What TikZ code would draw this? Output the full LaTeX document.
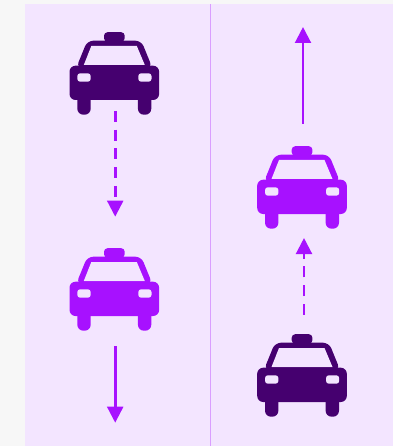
\documentclass[tikz,border=0pt]{standalone}
\usetikzlibrary{arrows.meta}
\definecolor{pagebg}{HTML}{F7F7F7}
\definecolor{panelbg}{HTML}{F3E5FF}
\definecolor{divider}{HTML}{D99EFF}
\definecolor{darkcar}{HTML}{45006F}
\definecolor{brightcar}{HTML}{A711FF}
\tikzset{
  x=1pt,y=-1pt,
  flow/.style={draw=brightcar,line width=2.7pt,-{Triangle[length=16pt,width=15.8pt]}},
  flowdash/.style={flow,dash pattern=on 11pt off 7.7pt},
  carbox/.style={inner sep=0pt,minimum width=90pt,minimum height=83pt},
  pics/taxi/.style={code={
    \fill[#1,rounded corners=3.5pt] (-10.3,-32) -- (-10.3,-41.5) -- (10.4,-41.5) -- (10.4,-32) -- cycle;
    \fill[#1,rounded corners=6pt] (-38,-6) -- (-27,-33) -- (27,-33) -- (38,-6) -- cycle;
    \fill[panelbg] (-30.5,-8.7) -- (-23,-27.7) -- (22.5,-27.7) -- (30.5,-8.7) -- cycle;
    \fill[#1,rounded corners=6pt] (-44.8,-8) -- (-44.8,26.3) -- (44.8,26.3) -- (44.8,-8) -- cycle;
    \fill[#1,rounded corners=6pt] (-37,18) -- (-37,41) -- (-23.6,41) -- (-23.6,18) -- cycle;
    \fill[#1,rounded corners=6pt] (23.6,18) -- (23.6,41) -- (37,41) -- (37,18) -- cycle;
    \fill[panelbg,rounded corners=2.8pt] (-37,-0.4) rectangle (-23.6,8);
    \fill[panelbg,rounded corners=2.8pt] (24,-0.4) rectangle (37.2,8);
  }}
}
\begin{document}
\begin{tikzpicture}
\useasboundingbox (0,0) rectangle (393,446);
\fill[pagebg] (0,0) rectangle (393,446);
\fill[panelbg] (25,4) rectangle (393,446);
\draw[divider,line width=1.5pt] (210.7,4) -- (210.7,446);
\node[carbox] (c1) at (114.3,73.7) {};
\node[carbox] (c2) at (114.3,289.7) {};
\node[carbox] (c3) at (302,187.7) {};
\node[carbox] (c4) at (302,375.7) {};
\pic at (c1.center) {taxi=darkcar};
\pic at (c2.center) {taxi=brightcar};
\pic at (c3.center) {taxi=brightcar};
\pic at (c4.center) {taxi=darkcar};
\coordinate (a1s) at (115.2,111);
\coordinate (a1e) at (115.2,216.7);
\coordinate (a2s) at (115.2,346);
\coordinate (a2e) at (115.2,422.7);
\coordinate (a3s) at (303,124);
\coordinate (a3e) at (303,27);
\coordinate (a4s) at (304,314.7);
\coordinate (a4e) at (304,238);
\draw[flowdash] (a1s) -- (a1e);
\draw[flow] (a2s) -- (a2e);
\draw[flow] (a3s) -- (a3e);
\draw[flowdash] (a4s) -- (a4e);
\end{tikzpicture}
\end{document}
